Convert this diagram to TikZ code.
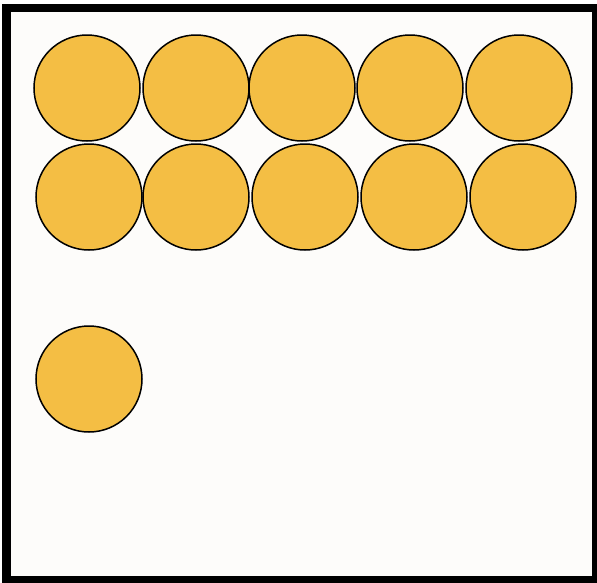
\documentclass[tikz,border=0pt]{standalone}
\definecolor{ball}{HTML}{F4BE44}
\definecolor{paper}{HTML}{FDFCFA}
\begin{document}
\begin{tikzpicture}[x=1pt,y=-1pt,
  ballnode/.style={circle,draw=black,line width=1.5pt,fill=ball,minimum size=106pt,inner sep=0pt,outer sep=0pt}]
\useasboundingbox (0,0) rectangle (597,582);
\begin{scope}
\clip (0,0) rectangle (597,582);
\fill[paper] (6.5,8) rectangle (596,580);
\draw[line width=8.5pt,line join=miter] (6.5,8) rectangle (596,580);
\end{scope}
\node[ballnode] (a1) at (87,88) {};
\node[ballnode] (a2) at (196,88) {};
\node[ballnode] (a3) at (302,88) {};
\node[ballnode] (a4) at (410,88) {};
\node[ballnode] (a5) at (519,88) {};
\node[ballnode] (b1) at (89,197) {};
\node[ballnode] (b2) at (196,197) {};
\node[ballnode] (b3) at (305,197) {};
\node[ballnode] (b4) at (414,197) {};
\node[ballnode] (b5) at (523,197) {};
\node[ballnode] (c1) at (89,379) {};
\end{tikzpicture}
\end{document}
